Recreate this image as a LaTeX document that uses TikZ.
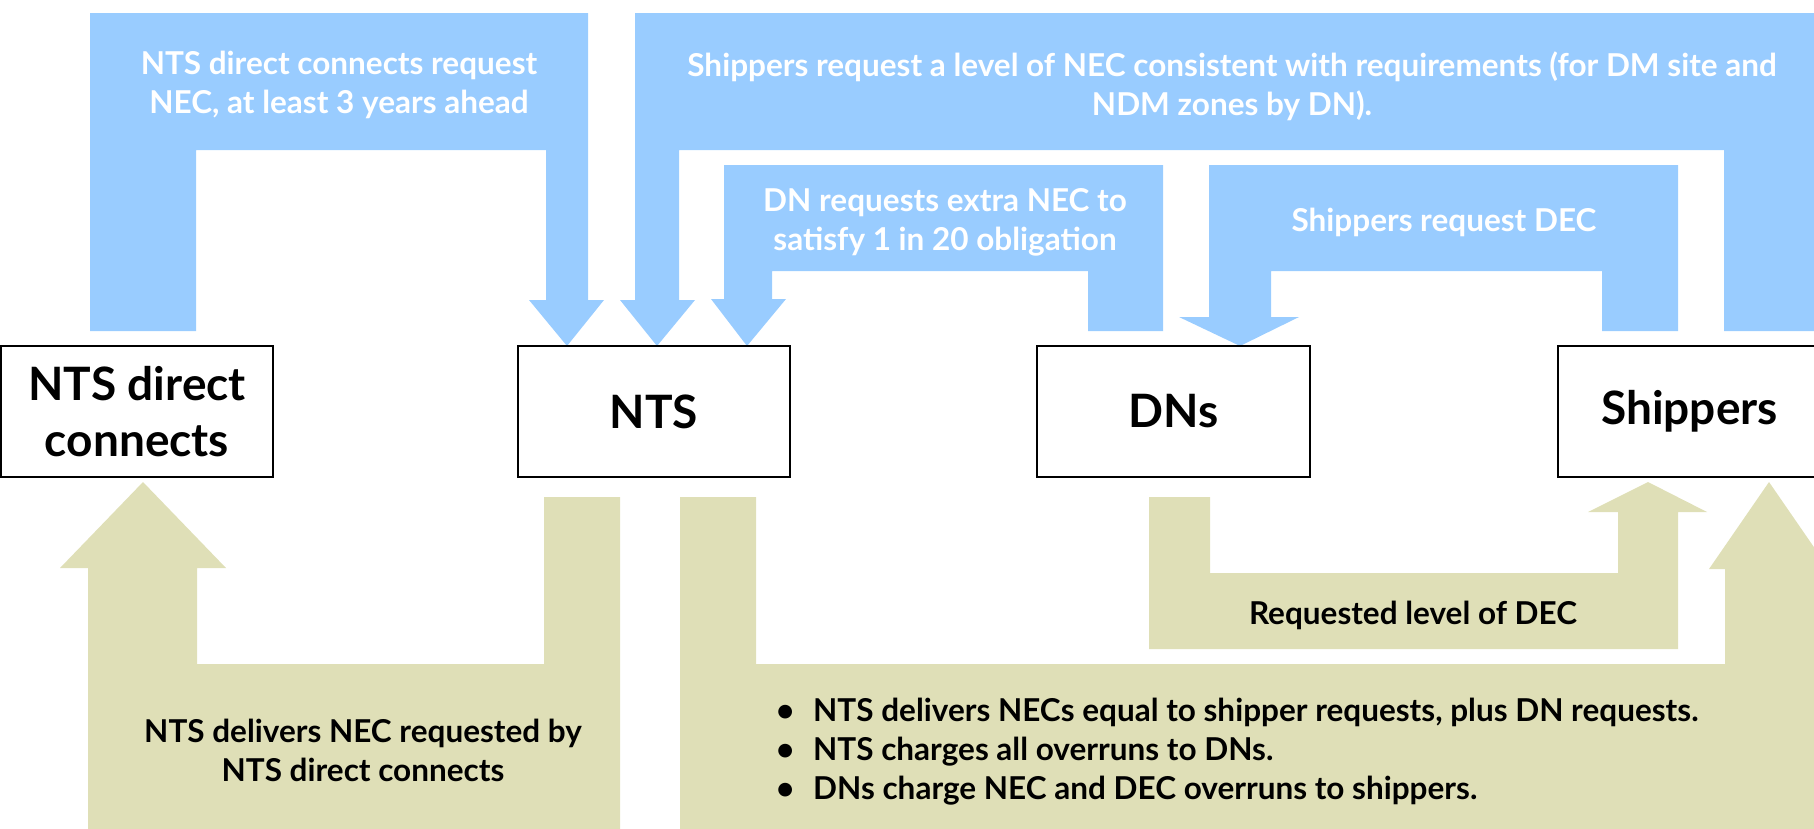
\documentclass[tikz,border=0pt]{standalone}
\usepackage{fontspec}
\setmainfont{Lato}
\definecolor{reqblue}{HTML}{99CCFF}
\definecolor{delkhaki}{HTML}{DFDFB7}
\tikzset{
  reqarrow/.style={fill=reqblue, draw=none},
  delarrow/.style={fill=delkhaki, draw=none},
  party/.style={draw=black, line width=2pt, fill=white, inner sep=0pt, align=center,
    font=\bfseries\fontsize{46}{56}\selectfont},
  wlabel/.style={text=white, align=center, inner sep=0pt, font=\bfseries\fontsize{31.5}{39}\selectfont},
  blabel/.style={text=black, align=center, inner sep=0pt, font=\bfseries\fontsize{31.5}{39}\selectfont},
}
\begin{document}
\begin{tikzpicture}[x=1pt,y=-1pt]
\useasboundingbox (0,0) rectangle (1814,828);
\begin{scope}
\clip (0,0) rectangle (1814,828);
% blue request arrows
\path[reqarrow] (90,13) -- (588,13) -- (588,300) -- (604,300) -- (567,346) -- (529,300) -- (546,300) -- (546,150) -- (196,150) -- (196,331) -- (90,331) -- cycle;
\path[reqarrow] (635,13) -- (1820,13) -- (1820,331) -- (1724,331) -- (1724,150) -- (679,150) -- (679,300) -- (695,300) -- (657,346) -- (620,300) -- (635,300) -- cycle;
\path[reqarrow] (724,165) -- (1163,165) -- (1163,331) -- (1088,331) -- (1088,271) -- (772,271) -- (772,299) -- (786,299) -- (747,346) -- (711,299) -- (724,299) -- cycle;
\path[reqarrow] (1209,165) -- (1678,165) -- (1678,331) -- (1602,331) -- (1602,271) -- (1271,271) -- (1271,317) -- (1299,317) -- (1240,346) -- (1179,317) -- (1209,317) -- cycle;
% khaki delivery arrows
\path[delarrow] (544,497) -- (620,497) -- (620,830) -- (88,830) -- (88,568) -- (60,568) -- (143,482) -- (226,568) -- (197,568) -- (197,664) -- (544,664) -- cycle;
\path[delarrow] (680,497) -- (756,497) -- (756,664) -- (1725,664) -- (1725,569) -- (1709,569) -- (1769,482) -- (1829,569) -- (1820,569) -- (1820,830) -- (680,830) -- cycle;
\path[delarrow] (1149,497) -- (1210,497) -- (1210,573) -- (1618,573) -- (1618,512) -- (1588,512) -- (1648,482) -- (1707,512) -- (1678,512) -- (1678,649) -- (1149,649) -- cycle;
% boxes
\node[party, minimum width=272pt, minimum height=131pt] (ndc) at (137,411.5) {NTS direct\\connects};
\node[party, minimum width=272pt, minimum height=131pt] (nts) at (654,411.5) {NTS};
\node[party, minimum width=273pt, minimum height=131pt] (dns) at (1173.5,411.5) {DNs};
\node[party, minimum width=280pt, minimum height=131pt, anchor=west] (ship) at (1557,411.5) {\hspace*{-17pt}Shippers};
\end{scope}
% labels
\node[wlabel] (l1) at (339,85) {NTS direct connects request\\NEC, at least 3 years ahead};
\node[wlabel] (l2) at (1232,86) {Shippers request a level of NEC consistent with requirements (for DM site and\\NDM zones by DN).};
\node[wlabel] (l3) at (945,222) {DN requests extra NEC to\\satisfy 1 in 20 obligation};
\node[wlabel] (l4) at (1444,222) {Shippers request DEC};
\node[blabel] (l5) at (1413,615) {Requested level of DEC};
\node[blabel] (l6) at (363,750) {NTS delivers NEC requested by\\NTS direct connects};
\node[blabel, align=left, anchor=west] (l7) at (776,752) {\makebox[37pt][l]{•}NTS delivers NECs equal to shipper requests, plus DN requests.\\\makebox[37pt][l]{•}NTS charges all overruns to DNs.\\\makebox[37pt][l]{•}DNs charge NEC and DEC overruns to shippers.};
\end{tikzpicture}
\end{document}
